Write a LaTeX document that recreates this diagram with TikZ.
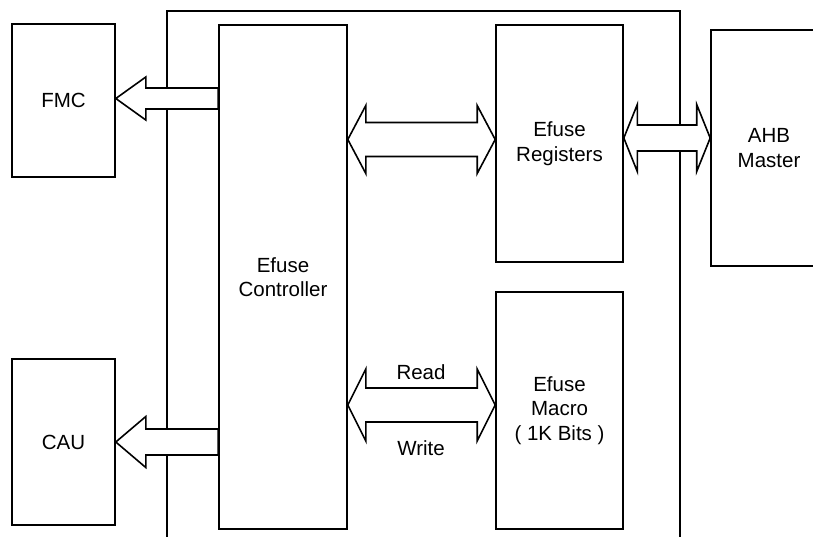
\documentclass[tikz,border=0pt]{standalone}
\usepackage{fontspec}
\setmainfont{Liberation Sans}
\usepackage{tikz}
\usetikzlibrary{calc}

\begin{document}
\begin{tikzpicture}[
  x=1pt,
  y=-1pt,
  wire/.style={line width=1.6pt,line join=miter},
  box/.style={draw,line width=1.6pt,inner sep=0pt,align=center,
    font=\fontsize{20.5}{24.5}\selectfont},
  blk/.style={draw,fill=white,line width=1.6pt,line join=miter},
  lbl/.style={inner sep=0pt,font=\fontsize{20.5}{24.5}\selectfont}
]
  \useasboundingbox (0,0) rectangle (813,536);
  \clip (0,0) rectangle (813,536);

  % outer frame (open at the bottom)
  \draw[wire] (167,540) |- (680,11) -- (680,540);

  % blocks
  \node[box,minimum width=103,minimum height=153] (fmc) at (63.5,100.5) {FMC};
  \node[box,minimum width=103,minimum height=166] (cau) at (63.5,442) {CAU};
  \node[box,minimum width=128,minimum height=504] (ctrl) at (283,277) {Efuse\\Controller};
  \node[box,minimum width=127,minimum height=237] (reg) at (559.5,143.5) {Efuse\\Registers};
  \node[box,minimum width=127,minimum height=237] (macro) at (559.5,410.5) {Efuse\\Macro\\( 1K Bits )};
  \node[box,minimum width=116,minimum height=236] (ahb) at (769,148) {AHB\\Master};

  % end points of the block arrows
  \coordinate (fmcTip) at (fmc.east |- 0,98.5);
  \coordinate (regL) at (ctrl.east |- 0,139.5);
  \coordinate (regR) at (reg.west |- 0,139.5);
  \coordinate (ahbL) at (reg.east |- 0,138);
  \coordinate (ahbR) at (ahb.west |- 0,138);
  \coordinate (macL) at (ctrl.east |- 0,405);
  \coordinate (macR) at (macro.west |- 0,405);

  % controller -> FMC / CAU
  \draw[blk] (fmcTip) -- ++(30,21.5) -- ++(0,-11) -- ($(ctrl.west |- fmcTip)+(0,10.5)$)
    -- ++(0,-21) -- ($(fmcTip)+(30,-10.5)$) -- ++(0,-11) -- cycle;
  \draw[blk] (cau.east) -- ++(30,25.5) -- ++(0,-12.5) -- ($(ctrl.west |- cau.east)+(0,13)$)
    -- ++(0,-26) -- ($(cau.east)+(30,-13)$) -- ++(0,-12.5) -- cycle;

  % controller <-> registers
  \draw[blk] (regL) -- ++(18,34) -- ++(0,-17) -- ($(regR)+(-18,17)$) -- ++(0,17) -- (regR)
    -- ++(-18,-34) -- ++(0,17) -- ($(regL)+(18,-17)$) -- ++(0,-17) -- cycle;

  % registers <-> AHB master
  \draw[blk] (ahbL) -- ++(13.5,33.5) -- ++(0,-20.5) -- ($(ahbR)+(-13.5,13)$) -- ++(0,20.5) -- (ahbR)
    -- ++(-13.5,-33.5) -- ++(0,20.5) -- ($(ahbL)+(13.5,-13)$) -- ++(0,-20.5) -- cycle;

  % controller <-> macro
  \draw[blk] (macL) -- ++(18,36) -- ++(0,-19) -- ($(macR)+(-18,17)$) -- ++(0,19) -- (macR)
    -- ++(-18,-36) -- ++(0,19) -- ($(macL)+(18,-17)$) -- ++(0,-19) -- cycle;
  \node[lbl] (rd) at (421,372) {Read};
  \node[lbl] (wr) at (421,448) {Write};
\end{tikzpicture}
\end{document}
